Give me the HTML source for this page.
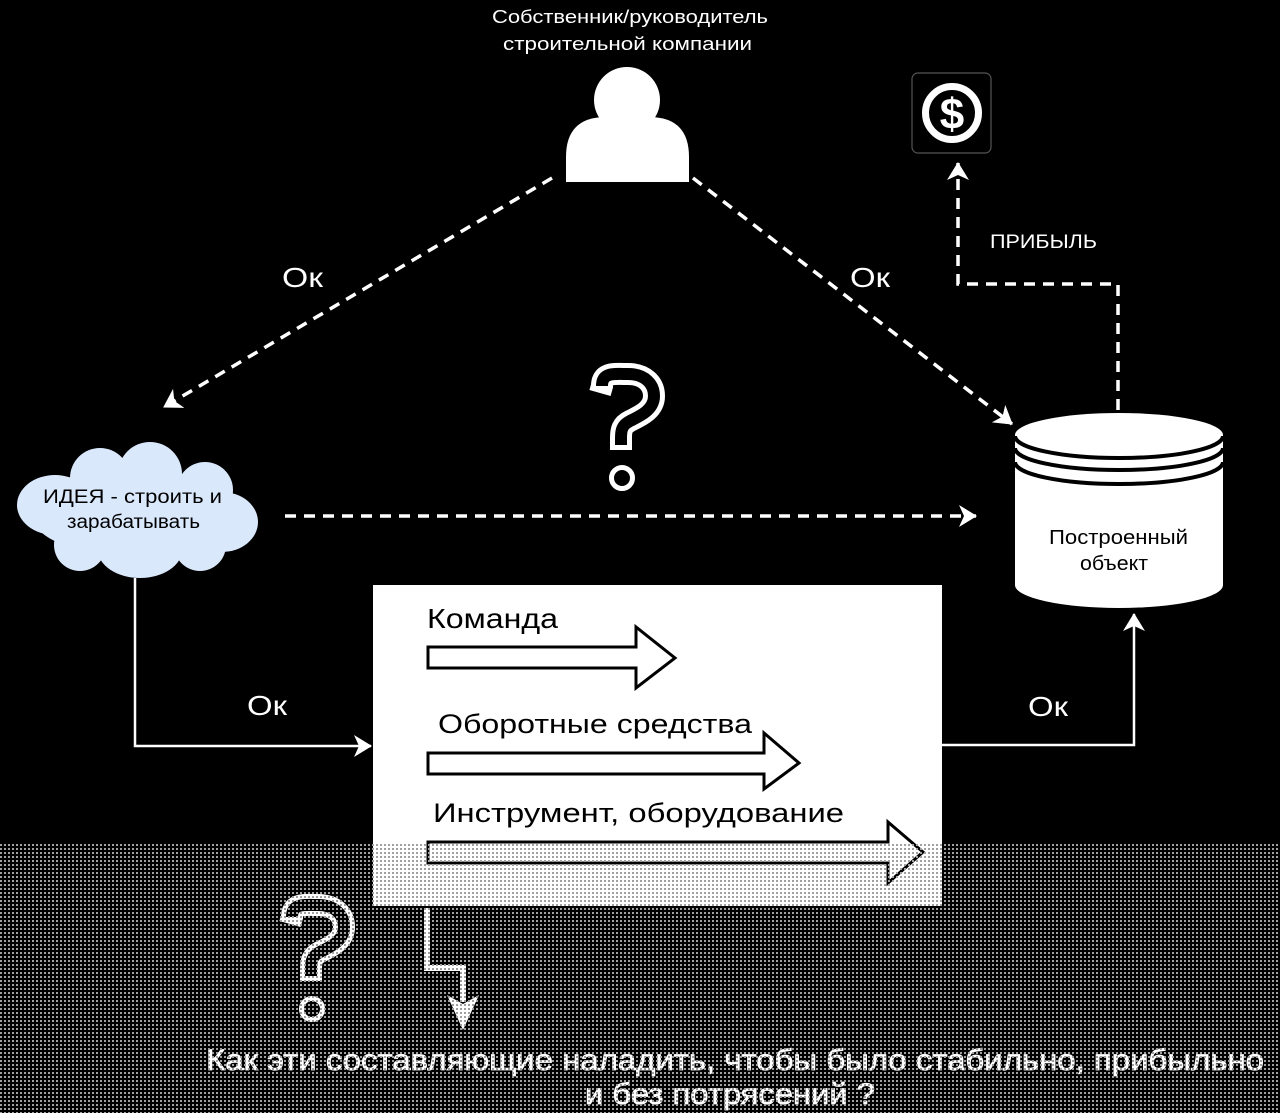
<!DOCTYPE html>
<html><head><meta charset="utf-8"><style>
html,body{margin:0;padding:0;background:#000;}
svg{display:block;}
text{font-family:"Liberation Sans","Noto Sans CJK SC",sans-serif;}
</style></head><body>
<svg width="1280" height="1113" viewBox="0 0 1280 1113" xmlns="http://www.w3.org/2000/svg">
<defs>
<marker id="ah" viewBox="0 0 18 22" refX="17" refY="11" markerWidth="18" markerHeight="22" markerUnits="userSpaceOnUse" orient="auto">
<path d="M0,0 L18,11 L0,22 L5,11 Z" fill="#fff"/>
</marker>
<pattern id="dots" width="4" height="4" patternUnits="userSpaceOnUse"><rect width="2" height="2" fill="#a0a0a0"/></pattern>
</defs>
<rect width="1280" height="1113" fill="#000"/>

<!-- top label -->
<text x="492" y="23" font-size="18" fill="#fff" textLength="276" lengthAdjust="spacingAndGlyphs">Собственник/руководитель</text>
<text x="503" y="50" font-size="18" fill="#fff" textLength="249" lengthAdjust="spacingAndGlyphs">строительной компании</text>

<!-- person -->
<path d="M566 182 L566 157 Q566 117 606 117 L649 117 Q689 117 689 157 L689 182 Z" fill="#fff"/>
<circle cx="627" cy="100" r="33" fill="#fff"/>

<!-- dollar icon -->
<rect x="912" y="73" width="79" height="80" rx="6" fill="#000" stroke="#555" stroke-width="1.2"/>
<circle cx="952" cy="113" r="26.5" fill="none" stroke="#fff" stroke-width="7"/>
<text x="952" y="129" font-size="44" font-weight="bold" fill="#fff" text-anchor="middle">$</text>

<!-- dashed connectors -->
<g fill="none" stroke="#fff" stroke-width="3.5" stroke-dasharray="11 8">
<path d="M552 178 L164 407" marker-end="url(#ah)"/>
<path d="M693 178 L1012 424" marker-end="url(#ah)"/>
<path d="M285 516 L976 516" marker-end="url(#ah)"/>
<path d="M1118 410 L1118 284 L958 284 L958 163" marker-end="url(#ah)"/>
</g>

<text x="990" y="248" font-size="19" fill="#fff" textLength="107" lengthAdjust="spacingAndGlyphs">ПРИБЫЛЬ</text>
<text x="282" y="287" font-size="28" fill="#fff" textLength="41" lengthAdjust="spacingAndGlyphs">Ок</text>
<text x="850" y="287" font-size="28" fill="#fff" textLength="40" lengthAdjust="spacingAndGlyphs">Ок</text>

<!-- central question mark -->
<g id="qm">
<path d="M600 393 L602 386 C602 372 614 374 628 374 C645 374 654 384 654 396 C654 410 640 416 630 421 C622 425 621 430 621 438 L621 450" fill="none" stroke="#fff" stroke-width="22"/>
<path d="M602 386 C602 372 614 374 628 374 C645 374 654 384 654 396 C654 410 640 416 630 421 C622 425 621 430 621 438 L621 445" fill="none" stroke="#000" stroke-width="12"/>
<circle cx="622" cy="478" r="10.5" fill="#000" stroke="#fff" stroke-width="5"/>
</g>

<!-- cloud -->
<g fill="#dae8fc">
<ellipse cx="137" cy="515" rx="105" ry="42"/>
<circle cx="100" cy="478" r="30"/>
<circle cx="150" cy="474" r="32"/>
<circle cx="205" cy="490" r="28"/>
<ellipse cx="55" cy="505" rx="38" ry="30"/>
<ellipse cx="222" cy="522" rx="36" ry="30"/>
<circle cx="80" cy="545" r="26"/>
<ellipse cx="140" cy="550" rx="42" ry="28"/>
<circle cx="200" cy="545" r="26"/>
</g>
<text x="43" y="503" font-size="19" fill="#000" textLength="179" lengthAdjust="spacingAndGlyphs">ИДЕЯ - строить и</text>
<text x="67" y="528" font-size="19" fill="#000" textLength="133" lengthAdjust="spacingAndGlyphs">зарабатывать</text>

<!-- cylinder -->
<rect x="1015" y="435" width="208" height="150" fill="#fff"/>
<ellipse cx="1119" cy="435" rx="104" ry="22" fill="#fff"/>
<ellipse cx="1119" cy="585" rx="104" ry="23" fill="#fff"/>
<g fill="none" stroke="#000" stroke-width="4">
<path d="M1015 436 A104 22 0 0 0 1223 436"/>
<path d="M1015 448 A104 22 0 0 0 1223 448"/>
<path d="M1015 462 A104 22 0 0 0 1223 462"/>
</g>
<text x="1049" y="544" font-size="20" fill="#000" textLength="139" lengthAdjust="spacingAndGlyphs">Построенный</text>
<text x="1080" y="570" font-size="20" fill="#000" textLength="68" lengthAdjust="spacingAndGlyphs">объект</text>

<!-- solid connectors -->
<g fill="none" stroke="#fff" stroke-width="2.5">
<path d="M135 578 L135 746 L371 746" marker-end="url(#ah)"/>
<path d="M942 745 L1134 745 L1134 614" marker-end="url(#ah)"/>
</g>
<text x="247" y="715" font-size="28" fill="#fff" textLength="40" lengthAdjust="spacingAndGlyphs">Ок</text>
<text x="1028" y="716" font-size="28" fill="#fff" textLength="40" lengthAdjust="spacingAndGlyphs">Ок</text>

<!-- white box -->
<rect x="373" y="585" width="569" height="321" fill="#fff"/>
<text x="427" y="628" font-size="28" fill="#000" textLength="131" lengthAdjust="spacingAndGlyphs">Команда</text>
<polygon points="428,647 636,647 636,627 675,658 636,688 636,668 428,668" fill="#fff" stroke="#000" stroke-width="3"/>
<text x="438" y="733" font-size="27" fill="#000" textLength="314" lengthAdjust="spacingAndGlyphs">Оборотные средства</text>
<polygon points="428,753 764,753 764,733 799,763 764,789 764,774 428,774" fill="#fff" stroke="#000" stroke-width="3"/>
<text x="433" y="822" font-size="27" fill="#000" textLength="411" lengthAdjust="spacingAndGlyphs">Инструмент, оборудование</text>
<polygon points="428,842 888,842 888,822 923,852 888,883 888,863 428,863" fill="#fff" stroke="#000" stroke-width="3"/>

<!-- zigzag arrow -->
<path d="M427 908 L427 968 L463 968 L463 1002" fill="none" stroke="#fff" stroke-width="6"/>
<polygon points="463,1030 447,995 463,1004 479,995" fill="#fff"/>

<!-- bottom question mark -->
<g transform="translate(-310,531)">
<path d="M600 393 L602 386 C602 372 614 374 628 374 C645 374 654 384 654 396 C654 410 640 416 630 421 C622 425 621 430 621 438 L621 450" fill="none" stroke="#fff" stroke-width="22"/>
<path d="M602 386 C602 372 614 374 628 374 C645 374 654 384 654 396 C654 410 640 416 630 421 C622 425 621 430 621 438 L621 445" fill="none" stroke="#000" stroke-width="12"/>
<circle cx="622" cy="478" r="10.5" fill="#000" stroke="#fff" stroke-width="5"/>
</g>

<!-- bottom text -->
<text x="206" y="1070" font-size="30" fill="#fff" stroke="#fff" stroke-width="0.8" textLength="1058" lengthAdjust="spacingAndGlyphs">Как эти составляющие наладить, чтобы было стабильно, прибыльно</text>
<text x="585" y="1104" font-size="30" fill="#fff" stroke="#fff" stroke-width="0.8" textLength="290" lengthAdjust="spacingAndGlyphs">и без потрясений ?</text>

<!-- dotted overlay -->
<rect x="0" y="843" width="1280" height="270" fill="url(#dots)"/>
</svg>
</body></html>
